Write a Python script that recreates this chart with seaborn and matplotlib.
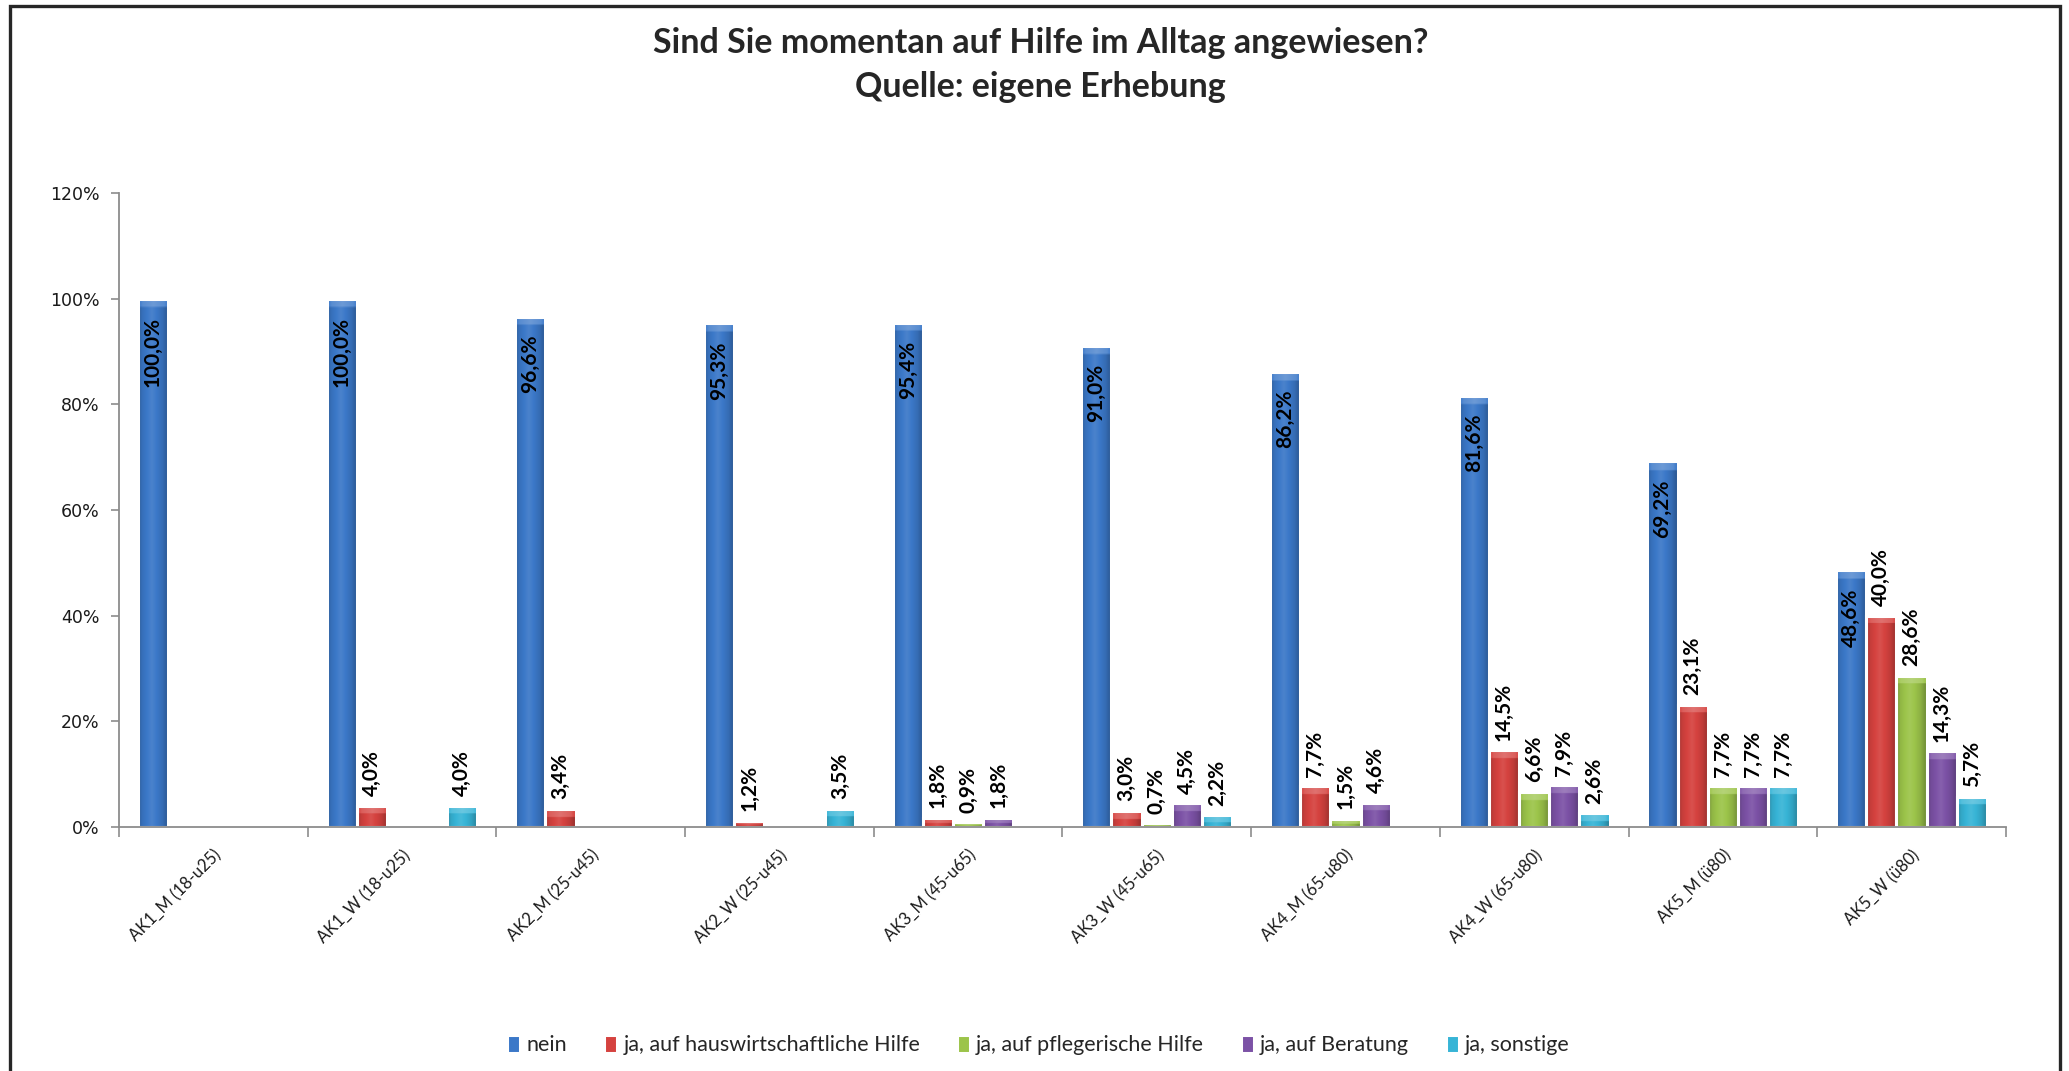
import numpy as np
import pandas as pd
import matplotlib
matplotlib.use("Agg")
import matplotlib.pyplot as plt
from matplotlib.patches import Rectangle
from matplotlib.colors import to_rgb
from matplotlib.ticker import FixedLocator, FuncFormatter
import seaborn as sns

# Altersgruppen (Kategorien)
gruppen = ["AK1_M (18-u25)", "AK1_W (18-u25)", "AK2_M (25-u45)", "AK2_W (25-u45)",
           "AK3_M (45-u65)", "AK3_W (45-u65)", "AK4_M (65-u80)", "AK4_W (65-u80)",
           "AK5_M (ü80)", "AK5_W (ü80)"]

antworten = ["nein", "ja, auf hauswirtschaftliche Hilfe", "ja, auf pflegerische Hilfe",
             "ja, auf Beratung", "ja, sonstige"]

# Anteile in Prozent je Antwort
nein = [100.0, 100.0, 96.6, 95.3, 95.4, 91.0, 86.2, 81.6, 69.2, 48.6]
hauswirtschaft = [0.0, 4.0, 3.4, 1.2, 1.8, 3.0, 7.7, 14.5, 23.1, 40.0]
pflege = [0.0, 0.0, 0.0, 0.0, 0.9, 0.7, 1.5, 6.6, 7.7, 28.6]
beratung = [0.0, 0.0, 0.0, 0.0, 1.8, 4.5, 4.6, 7.9, 7.7, 14.3]
sonstige = [0.0, 4.0, 0.0, 3.5, 0.0, 2.2, 0.0, 2.6, 7.7, 5.7]

reihen = [nein, hauswirtschaft, pflege, beratung, sonstige]
farben = ["#3B78C8", "#D5423F", "#9CC44A", "#7C52A6", "#37B4D6"]

df = pd.DataFrame({
    "Gruppe": np.repeat([gruppen], len(antworten), axis=0).ravel(),
    "Antwort": np.repeat(antworten, len(gruppen)),
    "Anteil": np.concatenate(reihen),
})

sns.set_style("white")
schrift = ["Lato", "DejaVu Sans"]

fig = plt.figure(figsize=(20.69, 10.71), dpi=100)
ax = fig.add_axes([0.0575, 0.2278, 0.912, 0.592])

sns.barplot(data=df, x="Gruppe", y="Anteil", hue="Antwort", order=gruppen,
            hue_order=antworten, palette=farben, saturation=1, width=0.8,
            edgecolor="white", linewidth=2.2, errorbar=None, ax=ax)
ax.set_ylim(0, 120)


def shade(rgb, f):
    rgb = np.array(rgb)
    if f >= 1:
        return rgb + (1 - rgb) * (f - 1)
    return rgb * f


# glossy column look: side shading plus a lighter bevel at the top of each bar
nx, ny = 64, 240
profile_x = np.linspace(0, 1, nx)
profile_f = np.interp(profile_x, [0, 0.12, 0.45, 0.8, 1.0], [0.72, 0.92, 1.08, 0.9, 0.7])
bevel_f = np.interp(profile_x, [0, 0.15, 0.5, 0.85, 1.0], [0.95, 1.15, 1.25, 1.15, 0.95])
bevel_pct = 1.5  # bevel depth in axis units (percent)
for cont, col in zip(ax.containers, farben):
    base = to_rgb(col)
    row = np.array([shade(base, f) for f in profile_f])
    light = np.array([shade(base, f) for f in bevel_f])
    for bar in cont.patches:
        h = bar.get_height()
        if h <= 0:
            continue
        x0, w = bar.get_x(), bar.get_width()
        img = np.repeat(row[None, :, :], ny, axis=0)
        frac = min(0.6, bevel_pct / h)
        yy = np.linspace(0, 1, ny)
        img[yy > 1 - frac] = light[None, :, :]
        im = ax.imshow(img, extent=(x0, x0 + w, 0, h), aspect="auto",
                       origin="lower", zorder=bar.get_zorder() + 0.1,
                       interpolation="bilinear")
        im.set_clip_path(bar)
        outline = Rectangle((x0, 0), w, h, fill=False, edgecolor="white",
                            linewidth=2.2, zorder=bar.get_zorder() + 0.2)
        ax.add_patch(outline)


def fmt(v):
    return f"{v:.1f}%".replace(".", ",") if v > 0 else ""


for i, (cont, werte) in enumerate(zip(ax.containers, reihen)):
    labels = [fmt(v) for v in werte]
    pad = -13 if i == 0 else 7
    anns = ax.bar_label(cont, labels=labels, rotation=90, padding=pad,
                        fontsize=15, fontweight="bold", family=schrift,
                        color="black", zorder=5)
    for a in anns:
        a.set_va("top" if i == 0 else "bottom")
        a.set_ha("center")

ax.set_xlim(-0.5, len(gruppen) - 0.5)
ax.set_yticks(np.arange(0, 121, 20))
ax.yaxis.set_major_formatter(FuncFormatter(lambda v, p: f"{int(v)}%"))
ax.set_xlabel("")
ax.set_ylabel("")

for s in ["top", "right"]:
    ax.spines[s].set_visible(False)
for s in ["left", "bottom"]:
    ax.spines[s].set_color("#8c8c8c")
    ax.spines[s].set_linewidth(1.3)

ax.tick_params(axis="y", which="major", left=True, length=6, width=1.2,
               color="#8c8c8c", labelsize=12.5, labelcolor="#1a1a1a", pad=8)
ax.tick_params(axis="x", which="major", bottom=False, pad=11)
ax.xaxis.set_minor_locator(FixedLocator(np.arange(-0.5, len(gruppen), 1.0)))
ax.tick_params(axis="x", which="minor", bottom=True, length=7, width=1.2,
               color="#8c8c8c")
for lab in ax.get_xticklabels():
    lab.set_rotation(45)
    lab.set_ha("right")
    lab.set_rotation_mode("anchor")
    lab.set_fontfamily(schrift)
    lab.set_fontsize(12)
    lab.set_color("#1a1a1a")

sns.move_legend(ax, "center", bbox_to_anchor=(0.502, 0.024),
                bbox_transform=fig.transFigure, ncol=5, frameon=False,
                title=None, fontsize=15.5, handlelength=0.6, handleheight=0.9,
                handletextpad=0.3, columnspacing=1.7)
for t in ax.get_legend().get_texts():
    t.set_fontfamily(schrift)

fig.text(0.503, 0.960, "Sind Sie momentan auf Hilfe im Alltag angewiesen?",
         ha="center", va="center", fontsize=24.5, fontweight="bold", family=schrift)
fig.text(0.503, 0.919, "Quelle: eigene Erhebung",
         ha="center", va="center", fontsize=24.5, fontweight="bold", family=schrift)

# chart frame
fig.patches.append(Rectangle((0.0048, -0.01), 0.9910, 1.0044, fill=False,
                             edgecolor="#262626", linewidth=2.4,
                             transform=fig.transFigure, figure=fig))

fig.savefig("out.png", dpi=100, facecolor="white")
